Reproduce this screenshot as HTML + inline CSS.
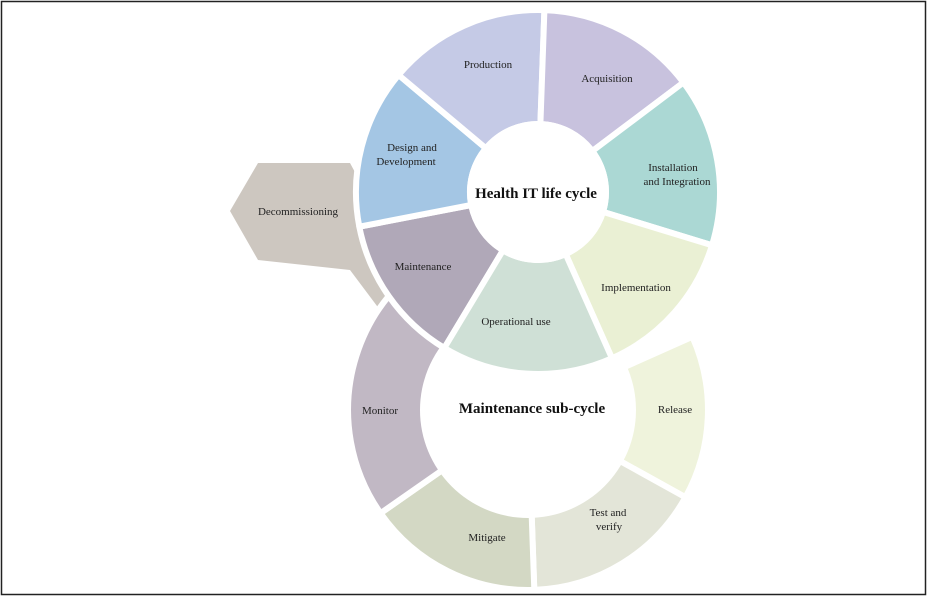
<!DOCTYPE html>
<html><head><meta charset="utf-8"><style>
html,body{margin:0;padding:0;background:#fff}
svg{display:block}
text{font-family:"Liberation Serif",serif;font-size:11px;fill:#222;text-anchor:middle}
.b{font-size:15px;font-weight:bold;fill:#111}
</style></head><body>
<svg id="s" width="928" height="597" viewBox="0 0 928 597" xmlns="http://www.w3.org/2000/svg">
<rect x="1.5" y="1.5" width="924" height="593" fill="#fff" stroke="#222" stroke-width="1.5"/>
<polygon points="230,211 258,163 350,163 370,200 372,262 395,300 380,310 350,270 258,260" fill="#cdc7c0"/>
<g id="lower"></g>
<circle cx="528" cy="410" r="108" fill="#fff"/>
<g id="upper"></g>
<circle cx="538" cy="192" r="71" fill="#fff"/>
<text x="298" y="215">Decommissioning</text>
<text x="488" y="68">Production</text>
<text x="607" y="82">Acquisition</text>
<text x="412" y="151">Design and</text>
<text x="406" y="165">Development</text>
<text x="673" y="171">Installation</text>
<text x="677" y="185">and Integration</text>
<text x="536" y="198" class="b">Health IT life cycle</text>
<text x="423" y="270">Maintenance</text>
<text x="636" y="291">Implementation</text>
<text x="516" y="325">Operational use</text>
<text x="380" y="414">Monitor</text>
<text x="532" y="413" class="b">Maintenance sub-cycle</text>
<text x="675" y="413">Release</text>
<text x="608" y="516">Test and</text>
<text x="609" y="530">verify</text>
<text x="487" y="541">Mitigate</text>
</svg>
<script>
function seg(cx,cy,ri,ro,a0,a1,col){
 var r=Math.PI/180,p=function(R,a){return (cx+R*Math.cos(a*r)).toFixed(1)+","+(cy+R*Math.sin(a*r)).toFixed(1)};
 var big=(a1-a0)>180?1:0;
 return '<path d="M'+p(ro,a0)+' A'+ro+','+ro+' 0 '+big+' 1 '+p(ro,a1)+' L'+p(ri,a1)+' A'+ri+','+ri+' 0 '+big+' 0 '+p(ri,a0)+' Z" fill="'+col+'" stroke="#fff" stroke-width="6" stroke-linejoin="round"/>';
}
var L=[[-24,29,"#eff3dc"],[29,88,"#e3e5d8"],[88,145,"#d3d8c4"],[145,250,"#c1b8c4"]];
var U=[[121,169,"#b0a8b8"],[169,220,"#a4c6e4"],[220,272,"#c5cae6"],[272,323,"#c8c2de"],[323,377,"#abd8d4"],[17,66,"#eaf0d4"],[66,121,"#cfe0d6"]];
var h="";L.forEach(function(a){h+=seg(528,410,100,180,a[0],a[1],a[2])});
document.getElementById("lower").innerHTML=h;
h="";U.forEach(function(a){h+=seg(538,192,68,182,a[0],a[1],a[2])});
document.getElementById("upper").innerHTML=h;
</script>
</body></html>
